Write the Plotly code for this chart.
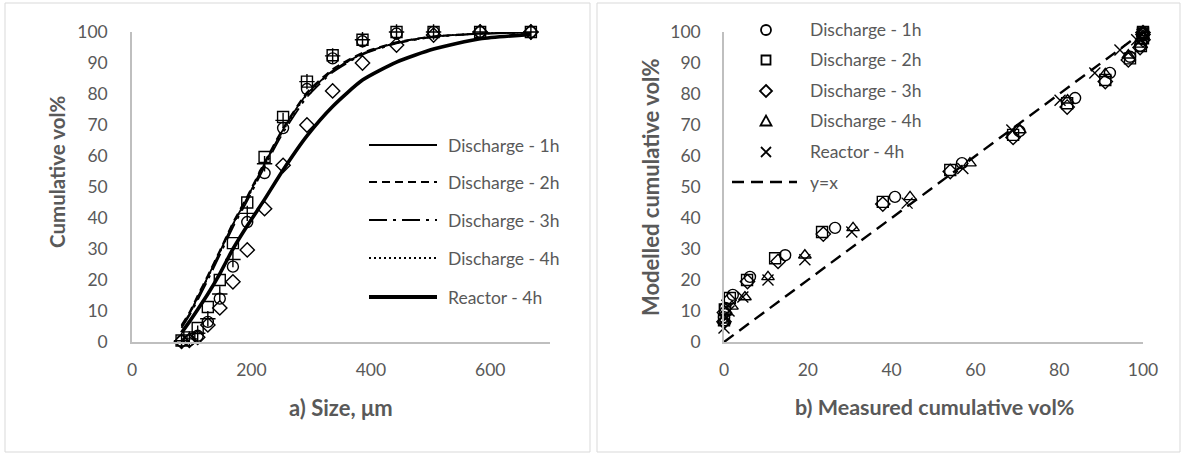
import plotly.graph_objects as go

# ---------------- data ----------------
sizes = [83, 96, 110, 127, 147, 169, 193, 222, 253, 293, 336, 386, 443, 505, 583, 668]

# left panel: measured cumulative vol% (markers)
meas_circle = [0.3, 0.5, 2, 6.5, 14, 24.3, 38.7, 54.5, 69, 81.6, 91.5, 97, 99.5, 100, 100, 100]
meas_square = [0.5, 1.5, 4.5, 11.3, 20, 31.9, 45, 59.7, 72.6, 84, 92.5, 97.5, 100, 100, 100, 100]
meas_diamond = [0.2, 0.5, 1.5, 5.5, 11, 19.4, 29.7, 43, 57, 70, 81, 90, 95.8, 99, 100, 100]
meas_plus = [0.4, 1, 2.8, 7.5, 15.5, 26.6, 41.5, 57.5, 71.5, 84, 92.3, 97.5, 100, 100, 100, 100]

# left panel: model curves
model_d1 = [5, 9, 14.5, 21, 29, 38, 46.5, 57.5, 68.5, 80, 87.5, 93, 96.5, 98.5, 99.5, 99.9]
model_d2 = [5.5, 9.5, 15, 21.5, 29.5, 38.5, 47, 58, 69, 80.5, 88, 93.3, 96.7, 98.6, 99.5, 99.9]
model_d3 = [4.5, 8.5, 13.5, 20, 28, 37, 45.5, 56.5, 67.5, 79, 87, 92.7, 96.3, 98.4, 99.4, 99.9]
model_d4 = [5, 9, 14.2, 20.8, 28.8, 37.8, 46.2, 57.2, 68.2, 79.8, 87.4, 93, 96.5, 98.5, 99.5, 99.9]
model_r4 = [3, 6.5, 10.5, 15.5, 22, 30, 37.5, 46, 55.5, 66.5, 76, 84.5, 90.3, 94.5, 97.8, 99.2]

# right panel: measured vs modelled
d1_meas = [0, 0.3, 2.1, 6.2, 14.6, 26.5, 40.8, 56.8, 70.5, 83.8, 92.1, 96.9, 99.3, 100, 100, 100]
d1_mod = [8, 11, 15.2, 21, 28, 36.8, 46.8, 57.7, 68, 78.7, 86.8, 92, 95.5, 97.8, 99.3, 99.8]
d2_meas = [0, 0.2, 1.4, 5.5, 12.2, 23.4, 37.9, 54, 69, 81.9, 91, 96.9, 99.5, 100, 100, 100]
d2_mod = [7, 10.5, 14.2, 20, 27, 35.5, 45.2, 55.5, 66.8, 77, 84.5, 91.5, 95.5, 98, 99.5, 100]
d3_meas = [0, 0.1, 1.2, 5.6, 12.9, 23.7, 37.9, 54, 69, 81.9, 91, 96.5, 99.3, 100, 100, 100]
d3_mod = [6.5, 9.5, 13.5, 19.5, 26, 34.8, 44.5, 55, 66, 75.8, 84, 91, 95, 97.5, 99.2, 99.8]
d4_meas = [0, 0.5, 1.9, 5, 10.5, 19.3, 30.8, 44.4, 58.7, 70.6, 82, 91, 96.5, 99.5, 100, 100]
d4_mod = [7, 9.7, 11.5, 14.5, 21, 28, 36.8, 46.8, 57.7, 68.4, 78, 86.5, 92.5, 96, 98.8, 99.7]
r4_meas = [0, 0.3, 1.2, 4.5, 10.5, 19.3, 30.5, 43.7, 57, 68.7, 80.2, 88.5, 94.5, 98.5, 99.8, 100]
r4_mod = [4.5, 7.5, 10, 14.5, 20, 26.5, 35.5, 44.8, 56, 68.4, 78, 86.8, 94.2, 97.5, 99.2, 99.8]
identity = [0, 100]

left_legend_labels = ["Discharge - 1h", "Discharge - 2h", "Discharge - 3h", "Discharge - 4h", "Reactor - 4h"]
right_legend_labels = ["Discharge - 1h", "Discharge - 2h", "Discharge - 3h", "Discharge - 4h", "Reactor - 4h", "y=x"]
x_ticks_left = [0, 200, 400, 600]
x_ticks_right = [0, 20, 40, 60, 80, 100]
y_ticks = [0, 10, 20, 30, 40, 50, 60, 70, 80, 90, 100]

# ---------------- layout helpers ----------------
W, H = 1184, 455
FONT = "Lato"
GREY = "#595959"


def px(x):
    return x / W


def py(y):
    return 1 - y / H


fig = go.Figure()

mk = dict(color="black", size=11, line=dict(color="black", width=1.4))

# left model lines
line_specs = [
    (model_d1, dict(color="black", width=1.8, dash="solid")),
    (model_d2, dict(color="black", width=1.8, dash="8px,5px")),
    (model_d3, dict(color="black", width=1.8, dash="18px,6px,3px,6px")),
    (model_d4, dict(color="black", width=1.8, dash="2px,3px")),
    (model_r4, dict(color="black", width=3.6, dash="solid")),
]
for ys, ln in line_specs:
    fig.add_trace(go.Scatter(x=sizes, y=ys, mode="lines", line=dict(shape="spline", smoothing=0.6, **ln),
                             xaxis="x", yaxis="y", showlegend=False, cliponaxis=False))

# left markers
for ys, sym in [(meas_circle, "circle-open"), (meas_square, "square-open"),
                (meas_diamond, "diamond-open"), (meas_plus, "cross-thin-open")]:
    fig.add_trace(go.Scatter(x=sizes, y=ys, mode="markers",
                             marker=dict(symbol=sym, **mk), xaxis="x", yaxis="y",
                             showlegend=False, cliponaxis=False))

# right panel
fig.add_trace(go.Scatter(x=identity, y=identity, mode="lines",
                         line=dict(color="black", width=2.4, dash="12px,7px"),
                         xaxis="x2", yaxis="y2", showlegend=False, cliponaxis=False))
for xs, ys, sym in [(d1_meas, d1_mod, "circle-open"), (d2_meas, d2_mod, "square-open"),
                    (d3_meas, d3_mod, "diamond-open"), (d4_meas, d4_mod, "triangle-up-open"),
                    (r4_meas, r4_mod, "x-thin-open")]:
    fig.add_trace(go.Scatter(x=xs, y=ys, mode="markers",
                             marker=dict(symbol=sym, **mk), xaxis="x2", yaxis="y2",
                             showlegend=False, cliponaxis=False))

# ---------------- axes ----------------
ax_common = dict(showgrid=False, zeroline=False, showline=True, linecolor="#BFBFBF", linewidth=1.5,
                 ticks="", tickfont=dict(family=FONT, size=17.5, color=GREY), automargin=False,
                 fixedrange=True)
ydom = [py(342), py(32)]
fig.update_layout(
    xaxis=dict(domain=[px(132), px(550)], range=[0, 700], tickvals=x_ticks_left,
               ticklabelstandoff=11, anchor="y", **ax_common),
    yaxis=dict(domain=ydom, range=[0, 100], tickvals=y_ticks, ticklabelstandoff=19,
               anchor="x", **ax_common),
    xaxis2=dict(domain=[px(724), px(1143)], range=[0, 100], tickvals=x_ticks_right,
                ticklabelstandoff=11, anchor="y2", **ax_common),
    yaxis2=dict(domain=ydom, range=[0, 100], tickvals=y_ticks, ticklabelstandoff=18,
                anchor="x2", **ax_common),
)

shapes = []
annotations = []

# chart area borders
for x0, x1 in [(5, 590), (597, 1180)]:
    shapes.append(dict(type="rect", xref="paper", yref="paper", x0=px(x0), x1=px(x1), y0=py(452), y1=py(3),
                       line=dict(color="#D9D9D9", width=1), fillcolor="rgba(0,0,0,0)", layer="below"))

# axis titles
def tfont(size):
    return dict(family=FONT, size=size, color=GREY, weight="bold")


ann_base = dict(xref="paper", yref="paper", showarrow=False, xanchor="center", yanchor="middle")
annotations += [
    dict(text="a) Size, μm", x=px(341), y=py(407), font=tfont(22), **ann_base),
    dict(text="b) Measured cumulative vol%", x=px(934), y=py(407), font=tfont(21.5), **ann_base),
    dict(text="Cumulative vol%", x=px(57), y=py(172), textangle=-90, font=tfont(20.5), **ann_base),
    dict(text="Modelled cumulative vol%", x=px(650), y=py(187), textangle=-90, font=tfont(22), **ann_base),
]

# left legend (line samples)
leg_font = dict(family=FONT, size=17.5, color=GREY)
left_rows = [145, 182, 220, 258, 297]
for (ys, ln), row, lab in zip(line_specs, left_rows, left_legend_labels):
    shapes.append(dict(type="line", xref="paper", yref="paper", x0=px(369), x1=px(437), y0=py(row), y1=py(row),
                       line=dict(color="black", width=ln["width"] + (0.4 if ln["width"] < 3 else 0.6),
                                 dash=ln["dash"])))
    annotations.append(dict(text=lab, x=px(446), y=py(row), xref="paper", yref="paper", xanchor="left",
                            yanchor="middle", showarrow=False, font=leg_font))

# right legend (marker samples)
right_rows = [30, 60, 91, 121, 152, 182]
mx = px(766)
sym_shapes = [
    dict(type="circle", x0=-5, x1=5, y0=-5, y1=5),
    dict(type="rect", x0=-4.5, x1=4.5, y0=-4.5, y1=4.5),
    dict(type="path", path="M0,6L6,0L0,-6L-6,0Z"),
    dict(type="path", path="M-5.5,-4.5L5.5,-4.5L0,5.5Z"),
    dict(type="path", path="M-5,-5L5,5M-5,5L5,-5"),
]
for s, row in zip(sym_shapes, right_rows[:5]):
    d = dict(xref="paper", yref="paper", xsizemode="pixel", ysizemode="pixel", xanchor=mx, yanchor=py(row),
             line=dict(color="black", width=1.8), fillcolor="rgba(0,0,0,0)")
    d.update(s)
    shapes.append(d)
shapes.append(dict(type="line", xref="paper", yref="paper", x0=px(732), x1=px(797), y0=py(182), y1=py(182),
                   line=dict(color="black", width=2.6, dash="12px,7px")))
for lab, row in zip(right_legend_labels, right_rows):
    annotations.append(dict(text=lab, x=px(808), y=py(row), xref="paper", yref="paper", xanchor="left",
                            yanchor="middle", showarrow=False, font=leg_font))

fig.update_layout(
    width=W, height=H, margin=dict(l=0, r=0, t=0, b=0),
    paper_bgcolor="white", plot_bgcolor="white",
    showlegend=False, shapes=shapes, annotations=annotations,
    font=dict(family=FONT),
)

fig.write_html("out.html", config={"displayModeBar": False})
